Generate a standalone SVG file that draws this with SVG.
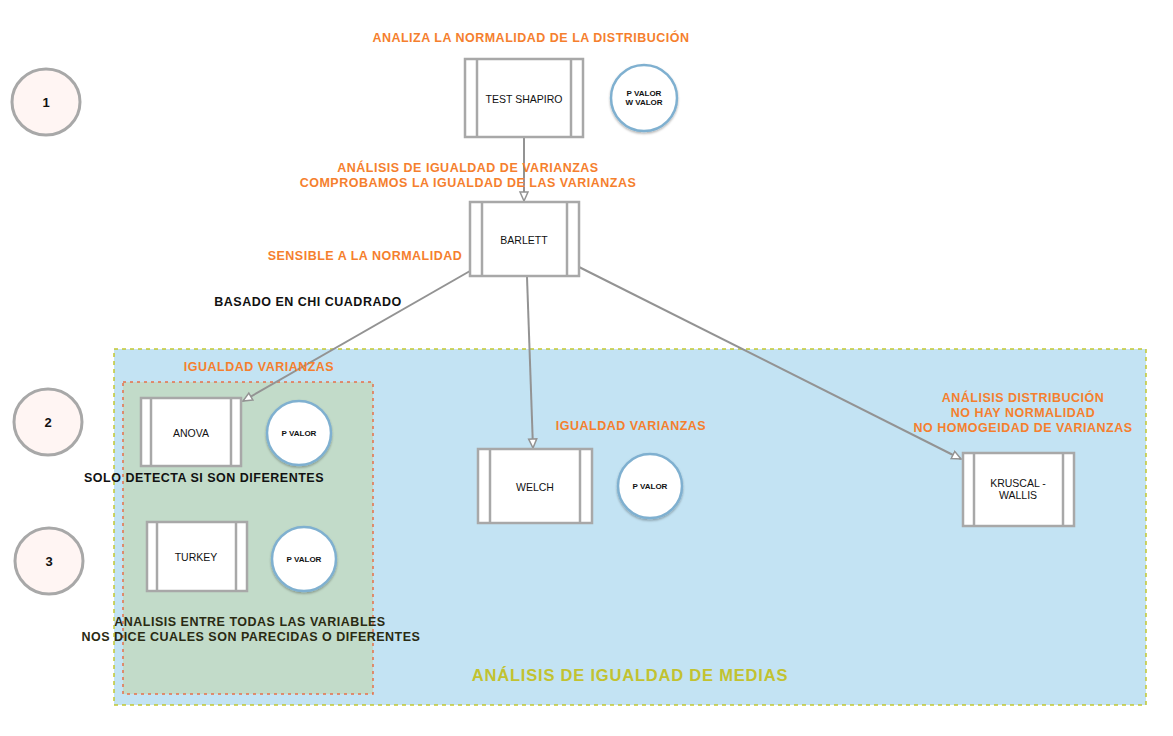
<svg xmlns="http://www.w3.org/2000/svg" width="1173" height="736" viewBox="0 0 1173 736">
<defs>
<style>
.ann{font-family:"Liberation Sans",Arial,sans-serif;font-weight:bold;font-size:12.5px;letter-spacing:0.5px;fill:#f57f2e;text-anchor:middle}
.blk{font-family:"Liberation Sans",Arial,sans-serif;font-weight:bold;font-size:12.5px;letter-spacing:0.5px;fill:#111;text-anchor:middle}
.lbl{font-family:"Liberation Sans",Arial,sans-serif;font-size:10.5px;fill:#111;text-anchor:middle}
.cl{font-family:"Liberation Sans",Arial,sans-serif;font-weight:bold;font-size:8px;fill:#111;text-anchor:middle}
.num{font-family:"Liberation Sans",Arial,sans-serif;font-weight:bold;font-size:13px;fill:#111;text-anchor:middle}
.box{fill:#fff;stroke:#a8a8a8;stroke-width:2.5}
.bar{stroke:#a8a8a8;stroke-width:2.5}
.pc{fill:#fff;stroke:#7fb0d0;stroke-width:2.5}
.nc{fill:#fff5f3;stroke:#a8a8a8;stroke-width:3}
.con{stroke:#939393;stroke-width:2;fill:none;marker-end:url(#arr)}
</style>
<marker id="arr" markerWidth="12" markerHeight="12" refX="10" refY="5" orient="auto" markerUnits="userSpaceOnUse">
<path d="M1,1 L10,5 L1,9 Z" fill="#fff" stroke="#939393" stroke-width="1.5"/>
</marker>
<filter id="sh" x="-20%" y="-20%" width="140%" height="140%">
<feDropShadow dx="0" dy="1.5" stdDeviation="1" flood-color="#000" flood-opacity="0.3"/>
</filter>
</defs>
<rect width="1173" height="736" fill="#fff"/>
<g id="region-medias">
<rect x="114" y="349" width="1032" height="356" fill="#c3e3f3" stroke="#c2c832" stroke-width="1.5" stroke-dasharray="4,4"/>
<text x="630" y="681" style="font-family:'Liberation Sans',Arial,sans-serif;font-weight:bold;font-size:16.5px;letter-spacing:0.8px;fill:#c2c230;text-anchor:middle">ANÁLISIS DE IGUALDAD DE MEDIAS</text>
</g>
<g id="region-anova">
<rect x="123" y="382" width="250" height="312" fill="#c2dbc9" stroke="#e8704a" stroke-width="1.5" stroke-dasharray="3,4"/>
</g>
<g id="connectors">
<line class="con" x1="524" y1="137" x2="524" y2="201"/>
<line class="con" x1="470" y1="271" x2="243" y2="401"/>
<line class="con" x1="527" y1="277" x2="533" y2="448"/>
<line class="con" x1="579" y1="267" x2="961" y2="459"/>
</g>
<g id="n1"><ellipse class="nc" cx="46" cy="102" rx="34" ry="33"/><text class="num" x="46" y="107">1</text></g>
<g id="n2"><ellipse class="nc" cx="48" cy="422" rx="34" ry="33"/><text class="num" x="48" y="427">2</text></g>
<g id="n3"><ellipse class="nc" cx="49" cy="561" rx="34" ry="33"/><text class="num" x="49" y="566">3</text></g>
<g id="test-shapiro">
<rect class="box" x="465" y="59" width="118" height="78"/>
<line class="bar" x1="477" y1="59" x2="477" y2="137"/><line class="bar" x1="571" y1="59" x2="571" y2="137"/>
<text class="lbl" x="524" y="103">TEST SHAPIRO</text>
</g>
<g id="p-shapiro"><circle class="pc" cx="644" cy="98" r="33" filter="url(#sh)"/><text class="cl" x="644" y="96">P VALOR</text><text class="cl" x="644" y="105">W VALOR</text></g>
<g id="barlett">
<rect class="box" x="470" y="202" width="109" height="74"/>
<line class="bar" x1="482" y1="202" x2="482" y2="276"/><line class="bar" x1="567" y1="202" x2="567" y2="276"/>
<text class="lbl" x="524" y="244">BARLETT</text>
</g>
<g id="anova">
<rect class="box" x="141" y="398" width="100" height="68"/>
<line class="bar" x1="151" y1="398" x2="151" y2="466"/><line class="bar" x1="231" y1="398" x2="231" y2="466"/>
<text class="lbl" x="191" y="437">ANOVA</text>
</g>
<g id="p-anova"><circle class="pc" cx="299" cy="433" r="32" filter="url(#sh)"/><text class="cl" x="299" y="436">P VALOR</text></g>
<g id="turkey">
<rect class="box" x="147" y="522" width="100" height="69"/>
<line class="bar" x1="157" y1="522" x2="157" y2="591"/><line class="bar" x1="236" y1="522" x2="236" y2="591"/>
<text class="lbl" x="196" y="561">TURKEY</text>
</g>
<g id="p-turkey"><circle class="pc" cx="304" cy="559" r="32" filter="url(#sh)"/><text class="cl" x="304" y="562">P VALOR</text></g>
<g id="welch">
<rect class="box" x="478" y="449" width="114" height="74"/>
<line class="bar" x1="490" y1="449" x2="490" y2="523"/><line class="bar" x1="580" y1="449" x2="580" y2="523"/>
<text class="lbl" x="535" y="491">WELCH</text>
</g>
<g id="p-welch"><circle class="pc" cx="650" cy="486" r="32" filter="url(#sh)"/><text class="cl" x="650" y="489">P VALOR</text></g>
<g id="kruscal">
<rect class="box" x="963" y="453" width="111" height="73"/>
<line class="bar" x1="974" y1="453" x2="974" y2="526"/><line class="bar" x1="1063" y1="453" x2="1063" y2="526"/>
<text class="lbl" x="1018" y="487">KRUSCAL -</text><text class="lbl" x="1018" y="499">WALLIS</text>
</g>
<g id="labels">
<text class="ann" x="531" y="42">ANALIZA LA NORMALIDAD DE LA DISTRIBUCIÓN</text>
<text class="ann" x="468" y="172">ANÁLISIS DE IGUALDAD DE VARIANZAS</text>
<text class="ann" x="468" y="187">COMPROBAMOS LA IGUALDAD DE LAS VARIANZAS</text>
<text class="ann" x="365" y="260">SENSIBLE A LA NORMALIDAD</text>
<text class="blk" x="308" y="306">BASADO EN CHI CUADRADO</text>
<text class="ann" x="259" y="371">IGUALDAD VARIANZAS</text>
<text class="blk" x="204" y="482">SOLO DETECTA SI SON DIFERENTES</text>
<text class="ann" x="631" y="430">IGUALDAD VARIANZAS</text>
<text class="ann" x="1023" y="402">ANÁLISIS DISTRIBUCIÓN</text>
<text class="ann" x="1023" y="417">NO HAY NORMALIDAD</text>
<text class="ann" x="1023" y="432">NO HOMOGEIDAD DE VARIANZAS</text>
<text class="blk" x="250" y="626" style="fill:#2a2a12">ANALISIS ENTRE TODAS LAS VARIABLES</text>
<text class="blk" x="251" y="641" style="fill:#2a2a12">NOS DICE CUALES SON PARECIDAS O DIFERENTES</text>
</g>
</svg>
